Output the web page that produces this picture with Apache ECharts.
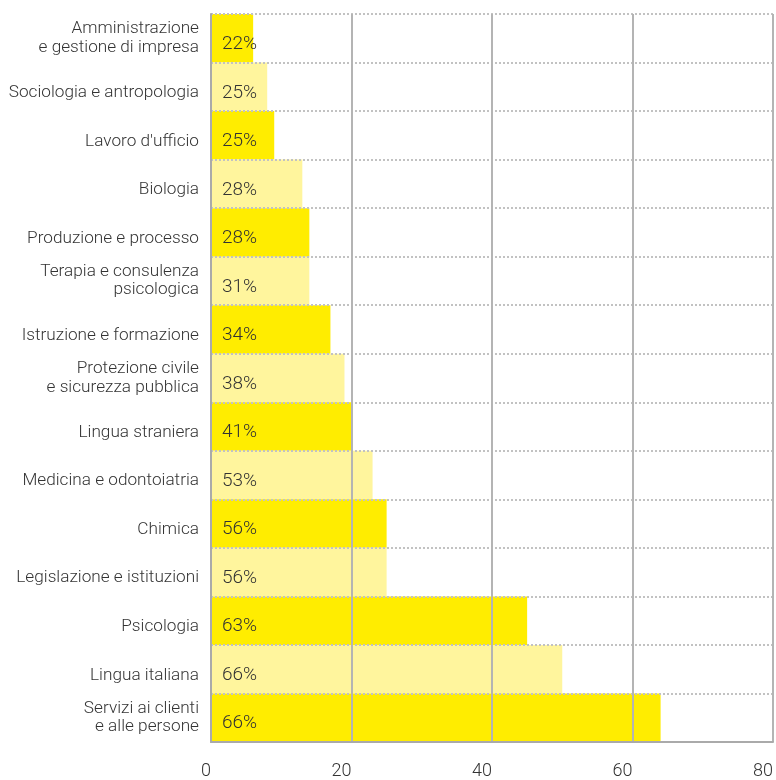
<!DOCTYPE html>
<html>
<head>
<meta charset="utf-8">
<script src="https://cdn.jsdelivr.net/npm/echarts@6/dist/echarts.min.js"></script>
<style>
  html, body { margin: 0; padding: 0; background: #ffffff; }
  #chart { width: 776px; height: 780px; }
</style>
</head>
<body>
<div id="chart"></div>
<script>
// Categories, top to bottom
const categories = [
  'Amministrazione\ne gestione di impresa',
  'Sociologia e antropologia',
  "Lavoro d'ufficio",
  'Biologia',
  'Produzione e processo',
  'Terapia e consulenza\npsicologica',
  'Istruzione e formazione',
  'Protezione civile\ne sicurezza pubblica',
  'Lingua straniera',
  'Medicina e odontoiatria',
  'Chimica',
  'Legislazione e istituzioni',
  'Psicologia',
  'Lingua italiana',
  'Servizi ai clienti\ne alle persone'
];
// Bar lengths on the 0–80 scale
const values = [6, 8, 9, 13, 14, 14, 17, 19, 20, 23, 25, 25, 45, 50, 64];
// Percentages printed inside each bar
const shares = [22, 25, 25, 28, 28, 31, 34, 38, 41, 53, 56, 56, 63, 66, 66];
// Value-axis ticks
const xTicks = [0, 20, 40, 60, 80];

const FONT = "Roboto, 'Liberation Sans', Arial, sans-serif";
const WEIGHT = 300;
const TEXT = '#333333';
const barColors = ['#FFED00', '#FFF59D'];

const chart = echarts.init(document.getElementById('chart'), null, { renderer: 'canvas' });

chart.setOption({
  animation: false,
  backgroundColor: '#ffffff',
  grid: { left: 211, right: 1, top: 14, bottom: 38, containLabel: false },
  xAxis: {
    type: 'value',
    min: xTicks[0],
    max: xTicks[xTicks.length - 1],
    interval: xTicks[1] - xTicks[0],
    z: 5,
    axisLine: { show: true, lineStyle: { color: '#aaaaaa', width: 2 } },
    axisTick: { show: false },
    splitLine: { show: true, lineStyle: { color: '#b4b4b4', width: 2 } },
    axisLabel: {
      align: 'right',
      margin: 20,
      fontSize: 18,
      fontFamily: FONT,
      fontWeight: WEIGHT,
      color: TEXT,
      showMinLabel: true,
      showMaxLabel: true
    }
  },
  yAxis: {
    type: 'category',
    data: categories,
    inverse: true,
    z: 5,
    axisLine: { show: true, lineStyle: { color: '#aaaaaa', width: 2 } },
    axisTick: { show: false },
    splitLine: { show: true, lineStyle: { color: '#c2c2c2', width: 2, type: [2, 2] } },
    axisLabel: {
      margin: 12,
      align: 'right',
      verticalAlign: 'middle',
      formatter: function (v) {
        if (v.indexOf('\n') >= 0) {
          return v.split('\n').map(function (s) { return '{t|' + s + '}'; }).join('\n');
        }
        return '{g| }\n{t|' + v + '}';
      },
      rich: {
        t: { fontSize: 17.2, lineHeight: 18.5, fontFamily: FONT, fontWeight: WEIGHT, color: TEXT, align: 'right' },
        g: { fontSize: 8, lineHeight: 12 }
      }
    }
  },
  series: [{
    type: 'bar',
    barCategoryGap: 0,
    data: values.map(function (v, i) {
      return { value: v, itemStyle: { color: barColors[i % 2] } };
    }),
    label: {
      show: true,
      position: 'insideLeft',
      distance: 11,
      offset: [0, 6],
      fontSize: 19,
      fontFamily: FONT,
      fontWeight: WEIGHT,
      color: TEXT,
      formatter: function (p) { return shares[p.dataIndex] + '%'; }
    }
  }]
});
</script>
</body>
</html>
